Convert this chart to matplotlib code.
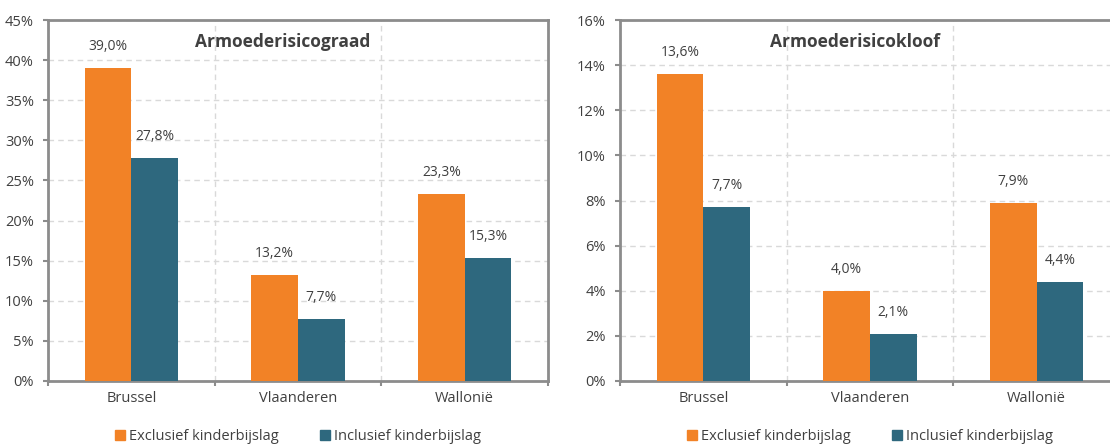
import matplotlib
matplotlib.use("Agg")
import matplotlib.pyplot as plt
from matplotlib.patches import Patch
import numpy as np

plt.rcParams['font.family'] = ['Open Sans', 'DejaVu Sans']

categories = ["Brussel", "Vlaanderen", "Wallonië"]
series_names = ["Exclusief kinderbijslag", "Inclusief kinderbijslag"]
graad_excl = [39.0, 13.2, 23.3]
graad_incl = [27.8, 7.7, 15.3]
kloof_excl = [13.6, 4.0, 7.9]
kloof_incl = [7.7, 2.1, 4.4]
graad_ticks = [0, 5, 10, 15, 20, 25, 30, 35, 40, 45]
kloof_ticks = [0, 2, 4, 6, 8, 10, 12, 14, 16]
titles = ["Armoederisicograad", "Armoederisicokloof"]

ORANGE = "#F28226"
TEAL = "#2E687E"
TXT = "#404040"
SPINE = "#8C8C8C"
GRID = "#D9D9D9"

W, H = 1110, 446
fig = plt.figure(figsize=(W / 100, H / 100), dpi=100)

def px_axes(left, top, right, bottom):
    return [left / W, 1 - bottom / H, (right - left) / W, (bottom - top) / H]

ax1 = fig.add_axes(px_axes(48, 20, 548, 381))
ax2 = fig.add_axes(px_axes(620, 20, 1120, 381))

def draw(ax, excl, incl, ticks, title):
    x = np.arange(len(categories))
    bw = 0.28
    b1 = ax.bar(x - bw / 2, excl, bw, color=ORANGE, zorder=3)
    b2 = ax.bar(x + bw / 2, incl, bw, color=TEAL, zorder=3)
    for bars, vals in ((b1, excl), (b2, incl)):
        for rect, v in zip(bars, vals):
            ax.annotate(f"{v:.1f}%".replace(".", ","),
                        (rect.get_x() + rect.get_width() / 2, rect.get_height()),
                        xytext=(0, 14), textcoords="offset pixels",
                        ha="center", va="bottom", fontsize=10, color=TXT)
    ax.set_xlim(-0.5, len(categories) - 0.5)
    ax.set_ylim(ticks[0], ticks[-1])
    ax.set_yticks(ticks)
    ax.set_yticklabels([f"{t}%" for t in ticks])
    ax.set_xticks(x)
    ax.set_xticklabels(categories)
    ax.set_xticks(np.arange(len(categories) + 1) - 0.5, minor=True)
    ax.tick_params(axis="x", which="major", length=0, pad=7, labelsize=10.5, labelcolor=TXT)
    ax.tick_params(axis="x", which="minor", length=3.6, width=1.5, color=SPINE)
    ax.tick_params(axis="y", length=3.6, width=1.5, color=SPINE, pad=6.5, labelsize=10.5, labelcolor=TXT)
    ax.grid(axis="y", which="major", color=GRID, linestyle=(0, (4, 3)), linewidth=1, zorder=0)
    ax.grid(axis="x", which="minor", color=GRID, linestyle=(0, (4, 3)), linewidth=1, zorder=0)
    for s in ax.spines.values():
        s.set_color(SPINE)
        s.set_linewidth(2)
    ax.text(0.47, 0.939, title, transform=ax.transAxes, ha="center", va="center",
            fontsize=12.5, fontweight="bold", color=TXT)
    handles = [Patch(color=ORANGE), Patch(color=TEAL)]
    ax.legend(handles, series_names, loc="center", bbox_to_anchor=(0.5, -0.155),
              ncol=2, frameon=False, fontsize=10.5, handlelength=0.7, handleheight=0.7,
              handletextpad=0.3, columnspacing=2.8, labelcolor=TXT)

draw(ax1, graad_excl, graad_incl, graad_ticks, titles[0])
draw(ax2, kloof_excl, kloof_incl, kloof_ticks, titles[1])

fig.savefig("out.png", dpi=100)
